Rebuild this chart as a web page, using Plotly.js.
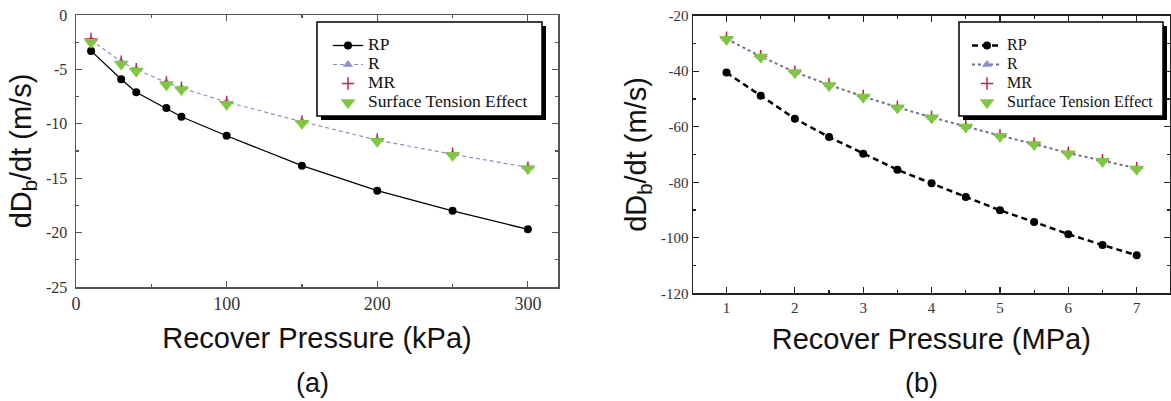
<!DOCTYPE html>
<html>
<head>
<meta charset="utf-8">
<script src="https://cdn.plot.ly/plotly-3.0.1.min.js"></script>
<style>html,body{margin:0;padding:0;background:#fff;}#chart{width:1171px;height:401px;}</style>
</head>
<body>
<div id="chart"></div>
<script>
// ---- Data: panel (a), recover pressure in kPa ----
const pressureKPa = [10, 30, 40, 60, 70, 100, 150, 200, 250, 300];
const rpA  = [-3.3, -5.9, -7.1, -8.55, -9.35, -11.1, -13.85, -16.15, -18.0, -19.7];
const rA   = [-2.3, -4.3, -5.0, -6.2, -6.7, -8.0, -9.8, -11.5, -12.8, -14.0];
const mrA  = [-2.2, -4.3, -5.0, -6.2, -6.7, -8.0, -9.8, -11.45, -12.75, -14.05];
const stA  = [-2.5, -4.5, -5.15, -6.4, -6.85, -8.2, -9.95, -11.6, -12.9, -14.1];

// ---- Data: panel (b), recover pressure in MPa ----
const pressureMPa = [1, 1.5, 2, 2.5, 3, 3.5, 4, 4.5, 5, 5.5, 6, 6.5, 7];
const rpB = [-40.5, -48.8, -57.1, -63.7, -69.7, -75.5, -80.4, -85.3, -90.1, -94.3, -98.7, -102.6, -106.3];
const rB  = [-28.3, -34.7, -40.3, -44.9, -49.1, -53.0, -56.6, -59.9, -63.2, -66.2, -69.5, -72.2, -75.0];
const mrB = [-28.0, -34.6, -40.2, -44.6, -48.9, -52.8, -56.4, -59.8, -63.1, -66.1, -69.4, -72.1, -74.9];
const stB = [-28.5, -34.9, -40.5, -45.1, -49.3, -53.2, -56.8, -60.1, -63.4, -66.4, -69.7, -72.4, -75.2];

// ---- Tick labels ----
const yTicksA = [0, -5, -10, -15, -20, -25];
const yTickTextA = ['0', '-5', '-10', '-15', '-20', '-25'];
const xTicksA = [0, 100, 200, 300];
const yTicksB = [-20, -40, -60, -80, -100, -120];
const yTickTextB = ['-20', '-40', '-60', '-80', '-100', '-120'];
const xTicksB = [1, 2, 3, 4, 5, 6, 7];

const seriesNames = ['RP', 'R', 'MR', 'Surface Tension Effect'];
const panelLabels = ['(a)', '(b)'];
const xTitles = ['Recover Pressure (kPa)', 'Recover Pressure (MPa)'];
const yTitle = 'dD<sub>b</sub>/dt (m/s)';

const W = 1171, H = 401;
const px = v => v / W;
const py = v => 1 - v / H;

const serif = 'Liberation Serif, Times New Roman, serif';
const sans = 'Liberation Sans, Arial, sans-serif';

// legend label with its own visible size (legend font kept small for tight rows)
const lg = (name, size) => '<span style="font-size:' + size + 'px">' + name + '</span>';

const traces = [
  // panel a
  {x: pressureKPa, y: rpA, name: lg(seriesNames[0], 17.5), mode: 'lines+markers', xaxis: 'x', yaxis: 'y', legend: 'legend',
   line: {color: '#000', width: 1.3}, marker: {symbol: 'circle', size: 8, color: '#000'}},
  {x: pressureKPa, y: rA, name: lg(seriesNames[1], 17.5), mode: 'lines+markers', xaxis: 'x', yaxis: 'y', legend: 'legend',
   line: {color: '#8a8fd6', width: 1.2, dash: '4px,3px'}, marker: {symbol: 'triangle-up', size: 9, color: '#8a8fd6'}},
  {x: pressureKPa, y: mrA, name: lg(seriesNames[2], 17.5), mode: 'markers', xaxis: 'x', yaxis: 'y', legend: 'legend',
   marker: {symbol: 'cross-thin', size: 9, line: {color: '#d0204a', width: 1.5}}},
  {x: pressureKPa, y: stA, name: lg(seriesNames[3], 17.5), mode: 'markers', xaxis: 'x', yaxis: 'y', legend: 'legend',
   marker: {symbol: 'triangle-down', size: 13, color: '#7cc93c'}},
  // panel b
  {x: pressureMPa, y: rpB, name: lg(seriesNames[0], 16), mode: 'lines+markers', xaxis: 'x2', yaxis: 'y2', legend: 'legend2',
   line: {color: '#000', width: 2.5, dash: '6px,4px'}, marker: {symbol: 'circle', size: 8, color: '#000'}},
  {x: pressureMPa, y: rB, name: lg(seriesNames[1], 16), mode: 'lines+markers', xaxis: 'x2', yaxis: 'y2', legend: 'legend2',
   line: {color: '#6a6f9a', width: 2, dash: 'dot'}, marker: {symbol: 'triangle-up', size: 9, color: '#8a8fd6'}},
  {x: pressureMPa, y: mrB, name: lg(seriesNames[2], 16), mode: 'markers', xaxis: 'x2', yaxis: 'y2', legend: 'legend2',
   marker: {symbol: 'cross-thin', size: 9, line: {color: '#d0204a', width: 1.5}}},
  {x: pressureMPa, y: stB, name: lg(seriesNames[3], 16), mode: 'markers', xaxis: 'x2', yaxis: 'y2', legend: 'legend2',
   marker: {symbol: 'triangle-down', size: 13, color: '#7cc93c'}}
];

const axisCommon = {
  showgrid: false, zeroline: false, showline: true, mirror: 'allticks',
  ticks: 'inside', ticklen: 6, tickwidth: 1.2
};

function legendBox(l, t, r, b) {
  return [
    {type: 'rect', xref: 'paper', yref: 'paper', layer: 'above',
     x0: px(l + 4), x1: px(r + 4), y0: py(t + 4), y1: py(b + 4),
     fillcolor: '#000', line: {width: 0}},
    {type: 'rect', xref: 'paper', yref: 'paper', layer: 'above',
     x0: px(l), x1: px(r), y0: py(t), y1: py(b),
     fillcolor: '#fff', line: {color: '#000', width: 1.5}}
  ];
}

const layout = {
  width: W, height: H,
  margin: {l: 0, r: 0, t: 0, b: 0},
  paper_bgcolor: '#fff', plot_bgcolor: '#fff',
  showlegend: true,
  xaxis: Object.assign({}, axisCommon, {
    domain: [px(76), px(558)], range: [0, 320], anchor: 'y',
    tickvals: xTicksA, linecolor: '#555', linewidth: 1.5, tickcolor: '#555',
    minor: {dtick: 50, ticks: 'inside', ticklen: 3, tickcolor: '#555'},
    tickfont: {family: serif, size: 18, color: '#333'},
    title: {text: xTitles[0], font: {family: sans, size: 29, color: '#111'}, standoff: 14}
  }),
  yaxis: Object.assign({}, axisCommon, {
    domain: [1 - 287 / H, 1 - 15 / H], range: [-25, 0], anchor: 'x',
    tickvals: yTicksA, ticktext: yTickTextA, linecolor: '#555', linewidth: 1.5, tickcolor: '#555',
    minor: {dtick: 2.5, ticks: 'inside', ticklen: 3, tickcolor: '#555'},
    tickfont: {family: serif, size: 16, color: '#333'},
    ticklabelstandoff: 4,
    title: {text: yTitle, font: {family: sans, size: 29, color: '#111'}, standoff: 6}
  }),
  xaxis2: Object.assign({}, axisCommon, {
    domain: [px(693), px(1169.5)], range: [0.51, 7.48], anchor: 'y2',
    tickvals: xTicksB, linecolor: '#222', linewidth: 1.5, tickcolor: '#222',
    minor: {dtick: 0.5, ticks: 'inside', ticklen: 3, tickcolor: '#222'},
    tickfont: {family: serif, size: 15, color: '#333'},
    title: {text: xTitles[1], font: {family: sans, size: 29, color: '#111'}, standoff: 14}
  }),
  yaxis2: Object.assign({}, axisCommon, {
    domain: [1 - 293.3 / H, 1 - 15.7 / H], range: [-120, -20], anchor: 'x2',
    tickvals: yTicksB, ticktext: yTickTextB, linecolor: '#222', linewidth: 1.5, tickcolor: '#222',
    minor: {dtick: 10, ticks: 'inside', ticklen: 3, tickcolor: '#222'},
    tickfont: {family: serif, size: 15, color: '#333'},
    title: {text: yTitle, font: {family: sans, size: 29, color: '#111'}, standoff: 6}
  }),
  legend: {
    x: px(328), y: py(31), xanchor: 'left', yanchor: 'top',
    bgcolor: 'rgba(0,0,0,0)', borderwidth: 0, tracegroupgap: 0,
    font: {family: serif, size: 11, color: '#111'}
  },
  legend2: {
    x: px(967), y: py(31), xanchor: 'left', yanchor: 'top',
    bgcolor: 'rgba(0,0,0,0)', borderwidth: 0, tracegroupgap: 0,
    font: {family: serif, size: 11, color: '#111'}
  },
  shapes: legendBox(317, 22, 542, 116).concat(legendBox(959, 22, 1163, 116)),
  annotations: [
    {text: panelLabels[0], xref: 'paper', yref: 'paper', x: px(312), y: py(383),
     xanchor: 'center', yanchor: 'middle', showarrow: false, font: {family: sans, size: 27, color: '#111'}},
    {text: panelLabels[1], xref: 'paper', yref: 'paper', x: px(921), y: py(383),
     xanchor: 'center', yanchor: 'middle', showarrow: false, font: {family: sans, size: 27, color: '#111'}}
  ]
};

Plotly.newPlot('chart', traces, layout, {displayModeBar: false, staticPlot: true});
</script>
</body>
</html>
